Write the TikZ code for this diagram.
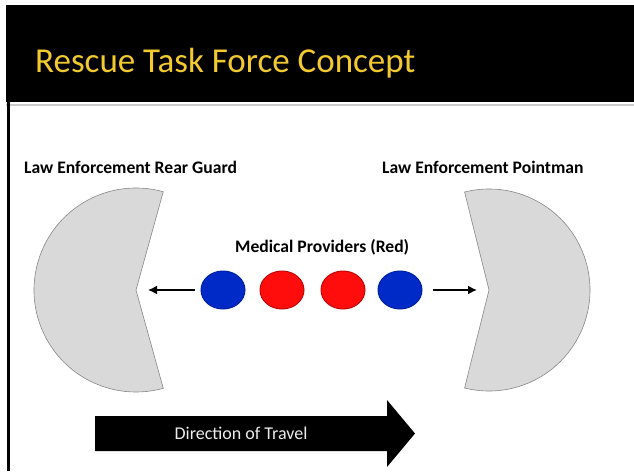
\documentclass[tikz,border=0pt]{standalone}
\usepackage{fontspec}
\setmainfont{Carlito}
\usetikzlibrary{shapes.geometric,arrows.meta}
\definecolor{titlegold}{RGB}{242,202,48}
\definecolor{guardgray}{RGB}{217,217,217}
\definecolor{edgegray}{RGB}{135,135,135}
\definecolor{medblue}{RGB}{0,42,200}
\definecolor{medred}{RGB}{255,12,12}
\begin{document}
\begin{tikzpicture}[x=1pt,y=-1pt,
    lawtext/.style={font=\bfseries\fontsize{17.6}{20}\selectfont, inner sep=0pt},
    medic/.style={ellipse, minimum width=44pt, minimum height=38pt, inner sep=0pt, line width=1pt},
    guard/.style={fill=guardgray, draw=edgegray, line width=0.6pt},
    >={Latex[length=9pt,width=9pt]}]
    \useasboundingbox (0,0) rectangle (634,471);

    % Title band
    \fill[black] (6,5) rectangle (634,102);
    \draw[gray!40, line width=1.5pt] (6,105) -- (634,105);
    \draw[black, line width=3pt] (8.5,102) -- (8.5,471);
    \node[text=titlegold, font=\fontsize{35}{40}\selectfont, anchor=base west, inner sep=0pt] (title) at (35,72) {Rescue Task Force Concept};

    % Rear guard
    \coordinate (rearnotch) at (136,290);
    \draw[guard] (rearnotch) -- ++(-74.5:102) arc[start angle=-74.5, end angle=-285.5, radius=102] -- cycle;
    \node[lawtext, anchor=base west] (rearlabel) at (24,173) {Law Enforcement Rear Guard};

    % Pointman
    \coordinate (pointnotch) at (489,290);
    \draw[guard] (pointnotch) -- ++(-104:101) arc[start angle=-104, end angle=104, radius=101] -- cycle;
    \node[lawtext, anchor=base west] (pointlabel) at (382,173) {Law Enforcement Pointman};

    % Medical providers
    \node[lawtext, anchor=base west] (medlabel) at (235,252) {Medical Providers (Red)};
    \node[medic, fill=medblue, draw=medblue!80!black] (blue1) at (223,290) {};
    \node[medic, fill=medred, draw=medred!75!black] (red1) at (282,290) {};
    \node[medic, fill=medred, draw=medred!75!black] (red2) at (343,290) {};
    \node[medic, fill=medblue, draw=medblue!80!black] (blue2) at (400,290) {};
    \draw[->, line width=1.6pt, shorten <=6pt, shorten >=12pt] (blue1) -- (rearnotch);
    \draw[->, line width=1.6pt, shorten <=10pt, shorten >=12pt] (blue2) -- (pointnotch);

    % Direction of travel
    \fill[black] (95,416) -- (387,416) -- (387,400) -- (415,433.5) -- (387,467) -- (387,451) -- (95,451) -- cycle;
    \node[text=gray!15, font=\fontsize{18}{22}\selectfont] (travel) at (241,433.5) {Direction of Travel};
\end{tikzpicture}
\end{document}
